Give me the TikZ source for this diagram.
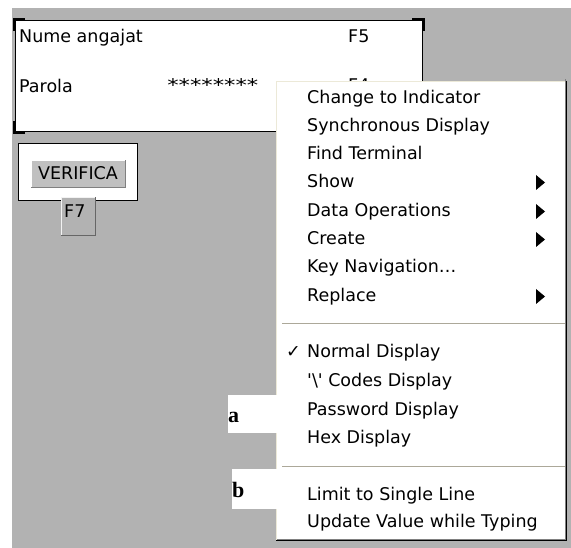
\documentclass[tikz,border=0pt]{standalone}
\usepackage{fontspec}
\setmainfont{DejaVu Sans}
\newfontfamily\tagfont{Liberation Serif}
\usetikzlibrary{positioning}

\definecolor{panelgray}{RGB}{178,178,178}
\definecolor{btngray}{RGB}{192,192,192}
\definecolor{sepgray}{RGB}{172,168,153}
\definecolor{menuedge}{RGB}{236,233,216}

\tikzset{
  uitext/.style={anchor=base west, inner sep=0pt, font=\fontsize{17.5}{20}\selectfont},
  menuitem/.style={uitext},
  tag/.style={anchor=base west, inner sep=0pt, font=\tagfont\bfseries\fontsize{22}{24}\selectfont},
  submenu/.style={fill=black}
}

\begin{document}
\begin{tikzpicture}[x=1pt,y=-1pt]
  \useasboundingbox (0,0) rectangle (571,548);
  % background
  \fill[white] (0,0) rectangle (571,548);
  \fill[panelgray] (12,8) rectangle (571,548);

  % login panel
  \draw[fill=white, line width=1pt] (15,21) rectangle (422,132);
  \draw[line width=3pt] (14,31) -- (14,19.5) -- (25,19.5);
  \draw[line width=3pt] (412,19.5) -- (423,19.5) -- (423,31);
  \draw[line width=3pt] (14,121) -- (14,133) -- (25,133);
  \node[uitext] (nume) at (19,43) {Nume angajat};
  \node[uitext] (f5) at (348,43) {F5};
  \node[uitext] (parola) at (19,93) {Parola};
  \node[uitext, xscale=1.3] (stars) at (167,92) {********};
  \node[uitext] (f4) at (348,92) {F4};

  % verifica button
  \draw[fill=white, line width=1pt] (18,144) rectangle (137,201);
  \node[fill=btngray, minimum width=94pt, minimum height=27pt, inner sep=0pt,
        font=\fontsize{17.5}{20}\selectfont] (verifica) at (78,173.5) {VERIFICA};
  \draw[white] (verifica.south west) |- (verifica.north east);
  \draw[gray] (verifica.south west) -| (verifica.north east);

  % F7 key
  \node[fill=panelgray, text width=28pt, inner xsep=3pt, inner ysep=3pt,
        text height=17pt, text depth=15pt, anchor=north west,
        font=\fontsize{17.5}{20}\selectfont] (keyf7) at (61,197) {F7};
  \draw[white!90!gray] (keyf7.south west) |- (keyf7.north east);
  \draw[black!60, line width=1.2pt] (keyf7.south west) -| (keyf7.north east);

  % pop-up menu
  \node[fill=white, minimum width=290pt, minimum height=459pt, inner sep=0pt,
        anchor=north west] (menu) at (276,81) {};
  \draw[menuedge] (menu.south west) |- (menu.north east);
  \draw[gray] ([xshift=-1.5pt, yshift=1.5pt]menu.north east) |- ([xshift=1pt, yshift=1.5pt]menu.south west);
  \draw[black, line width=1.2pt] (menu.north east) |- (menu.south west);

  \foreach \txt/\yy [count=\n] in {Change to Indicator/104, Synchronous Display/132,
      Find Terminal/160, Show/188, Data Operations/217, Create/245,
      Key Navigation\ldots/273, Replace/302, Normal Display/358,
      \textquotesingle\textbackslash\textquotesingle\ Codes Display/387,
      Password Display/415, Hex Display/443, Limit to Single Line/500,
      Update Value while Typing/527}
    \node[menuitem] (mi\n) at (307,\yy) {\txt};
  \node[menuitem] (check) at (286,358) {✓};

  % submenu arrows
  \foreach \yy in {188,217,245,302}
    \fill[submenu] (536,\yy-13) -- (545,\yy-5.5) -- (536,\yy+2) -- cycle;

  % separators
  \foreach \yy in {323,466} {
    \draw[sepgray] (282,\yy) -- (565,\yy);
    \draw[white] (282,\yy+1) -- (565,\yy+1);
  }

  % a / b tags
  \fill[white] (228,395) rectangle (277,433);
  \node[tag] (taga) at (228,422) {a};
  \fill[white] (232,469) rectangle (277,509);
  \node[tag] (tagb) at (232,497) {b};
\end{tikzpicture}
\end{document}
